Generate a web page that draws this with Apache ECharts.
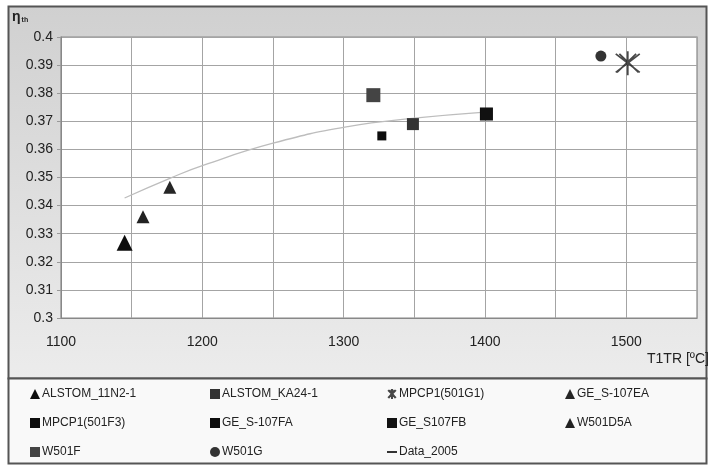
<!DOCTYPE html>
<html><head><meta charset="utf-8">
<script src="https://cdn.jsdelivr.net/npm/echarts@6/dist/echarts.min.js"></script>
<style>html,body{margin:0;padding:0;background:#fff}#c{width:708px;height:466px}</style>
</head><body><div id="c"></div>
<script>
// Data
const xTicks = [1100, 1200, 1300, 1400, 1500];
const yTicks = [0.3, 0.31, 0.32, 0.33, 0.34, 0.35, 0.36, 0.37, 0.38, 0.39, 0.4];
const alstom11N2 = [[1145, 0.3268]];
const alstomKA24 = [[1349, 0.3690]];
const mpcp501G1 = [[1501, 0.3907]];
const geS107EA = [[1177, 0.3465]];
const mpcp501F3 = [[1327, 0.3648]];
const geS107FA = [[1401, 0.3726]];
const geS107FB = [[1401, 0.3726]];
const w501D5A = [[1158, 0.3360]];
const w501F = [[1321, 0.3793]];
const w501G = [[1482, 0.3932]];
const data2005 = [[1145, 0.3427], [1177, 0.3497], [1201, 0.3544], [1250, 0.3622], [1303, 0.3681], [1350, 0.3711], [1400, 0.3733]];

const starPath = 'path://M0,0L20,20M20,0L0,20M10,-3L10,23M3,0L19,20M17,0L1,20';
const FONT = 'Liberation Sans';

function sc(name, data, symbol, size, color, extra) {
  return Object.assign({
    name, type: 'scatter', data, symbol, symbolSize: size,
    itemStyle: { color, opacity: 1 }, z: 3, emphasis: { disabled: true }
  }, extra || {});
}

const series = [
  sc('ALSTOM_11N2-1', alstom11N2, 'triangle', 16, '#0d0d0d'),
  sc('ALSTOM_KA24-1', alstomKA24, 'rect', 12, '#333'),
  sc('MPCP1(501G1)', mpcp501G1, starPath, 24, 'transparent', { itemStyle: { color: 'transparent', borderColor: '#1a1a1a', borderWidth: 1.8 } }),
  sc('GE_S-107EA', geS107EA, 'triangle', 13, '#262626'),
  sc('MPCP1(501F3)', mpcp501F3, 'rect', 9, '#0d0d0d'),
  sc('GE_S-107FA', geS107FA, 'rect', 13, '#0d0d0d'),
  sc('GE_S107FB', geS107FB, 'rect', 12, '#111'),
  sc('W501D5A', w501D5A, 'triangle', 13, '#222'),
  sc('W501F', w501F, 'rect', 14, '#444'),
  sc('W501G', w501G, 'circle', 11, '#333'),
  {
    name: 'Data_2005', type: 'line', data: data2005, smooth: true, showSymbol: false,
    symbol: 'none', lineStyle: { color: '#bdbdbd', width: 1.3 }, itemStyle: { color: '#333' }, z: 2,
    emphasis: { disabled: true }
  }
];

function legend(names, left, icons) {
  return {
    orient: 'vertical', left, top: 388, height: 76, padding: 0, itemGap: 17, itemWidth: 10, itemHeight: 10,
    data: names.map((n, i) => ({ name: n, icon: icons[i] })),
    textStyle: { fontFamily: FONT, fontSize: 12, color: '#222', padding: [0, 0, 0, -3] },
    selectedMode: false
  };
}

const chart = echarts.init(document.getElementById('c'), null, { renderer: 'canvas' });
chart.setOption({
  animation: false,
  backgroundColor: '#fff',
  graphic: [
    { type: 'rect', shape: { x: 8.5, y: 6.5, width: 698, height: 372 }, z: -10,
      style: { fill: new echarts.graphic.LinearGradient(0, 0, 0, 1, [{ offset: 0, color: '#d0d0d0' }, { offset: 1, color: '#ececec' }]), stroke: '#555', lineWidth: 2 } },
    { type: 'rect', shape: { x: 8.5, y: 378.5, width: 698, height: 85 }, z: -10,
      style: { fill: '#f9f9f9', stroke: '#555', lineWidth: 2 } },
    { type: 'text', left: 12, top: 10, z: 10,
      style: { text: '{a|η}{b|th}', rich: { a: { fontFamily: FONT, fontSize: 14, fontWeight: 'bold', fill: '#222' }, b: { fontFamily: FONT, fontSize: 7, fontWeight: 'bold', fill: '#222', padding: [6, 0, 0, 1] } } } },
    { type: 'text', left: 647, top: 352, z: 10,
      style: { text: 'T1TR [ºC]', fontFamily: FONT, fontSize: 14, fill: '#222' } }
  ],
  grid: { left: 61, right: 11, top: 37, bottom: 148, show: true, backgroundColor: '#fff', borderColor: '#888', borderWidth: 1.2 },
  xAxis: {
    type: 'value', min: 1100, max: 1550, interval: 50,
    axisLine: { show: true, lineStyle: { color: '#888' } },
    axisTick: { show: false },
    splitLine: { lineStyle: { color: '#a4a4a4', width: 1 } },
    axisLabel: { fontFamily: FONT, fontSize: 14, color: '#222', margin: 17,
      formatter: v => xTicks.indexOf(v) >= 0 ? String(v) : '' }
  },
  yAxis: {
    type: 'value', min: 0.3, max: 0.4, interval: 0.01,
    axisLine: { show: true, lineStyle: { color: '#888' } },
    axisTick: { show: true, length: 4, lineStyle: { color: '#999' } },
    splitLine: { lineStyle: { color: '#a4a4a4', width: 1 } },
    axisLabel: { fontFamily: FONT, fontSize: 14, color: '#222', margin: 8,
      formatter: v => { const t = yTicks.find(y => Math.abs(y - v) < 1e-6); return t === undefined ? '' : String(t); } }
  },
  legend: [
    legend(['ALSTOM_11N2-1', 'MPCP1(501F3)', 'W501F'], 30, ['triangle', 'rect', 'rect']),
    legend(['ALSTOM_KA24-1', 'GE_S-107FA', 'W501G'], 210, ['rect', 'rect', 'circle']),
    legend(['MPCP1(501G1)', 'GE_S107FB', 'Data_2005'], 387, [starPath, 'rect', 'path://M0,4L10,4L10,6L0,6Z']),
    legend(['GE_S-107EA', 'W501D5A'], 565, ['triangle', 'triangle'])
  ],
  series
});
</script></body></html>
